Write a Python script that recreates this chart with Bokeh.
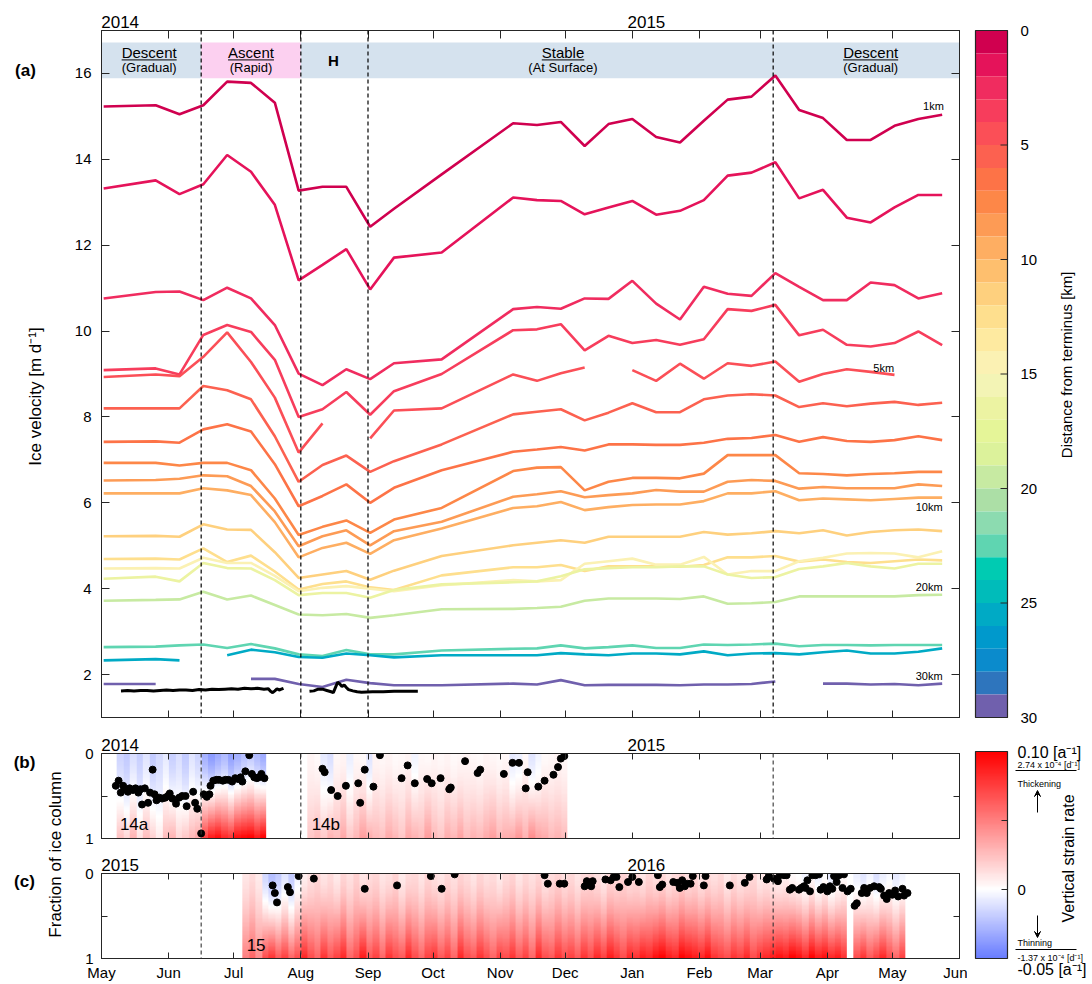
import numpy as np
from bokeh.plotting import figure
from bokeh.models import (Range1d, LinearAxis, FixedTicker, Span, Label,
                          LinearColorMapper, Arrow, VeeHead)
from bokeh.layouts import row, column
from bokeh.embed import file_html
from bokeh.resources import INLINE
from bokeh.core.properties import value

FONT = "Liberation Sans"
INK = "#262626"
nan = float("nan")

# ------------------------------------------------------------------ data
# x is "days since 1 May" of the first year shown in each panel
MONTH_DAY = [0, 31, 61, 92, 123, 153, 184, 214, 245, 276, 304, 335, 365, 396]
MONTH_LABEL = ["May", "Jun", "Jul", "Aug", "Sep", "Oct", "Nov", "Dec",
               "Jan", "Feb", "Mar", "Apr", "May", "Jun"]
YEAR_CENTER = [8.6, 251.5]
YEARS_AB = ["2014", "2015"]
YEARS_C = ["2015", "2016"]
VEL_TICK = [2, 4, 6, 8, 10, 12, 14, 16]
DIST_TICK = [0, 5, 10, 15, 20, 25, 30]

PHASE_START = [0, 46, 92, 123, 310]
PHASE_END = [46, 92, 123, 310, 396]
PHASE_NAME = ["Descent", "Ascent", "H", "Stable", "Descent"]
PHASE_SUB = ["(Gradual)", "(Rapid)", "", "(At Surface)", "(Gradual)"]
PHASE_COLOR = ["#d5e2ee", "#fcd0f0", "#d5e2ee", "#d5e2ee", "#d5e2ee"]
DASH_A = [46, 92, 123, 310]
DASH_BC = [46, 92, 310]

VEL_DAY = [1, 25, 36, 47, 58, 69, 80, 91, 102, 113, 124, 135, 157, 190, 201, 212,
           223, 234, 245, 256, 267, 278, 289, 300, 311, 322, 333, 344, 355, 366, 377, 388]
V_1KM = [15.23, 15.26, 15.05, 15.26, 15.81, 15.78, 15.32, 13.27, 13.36, 13.36, 12.43, 12.85, 13.65, 14.84, 14.80, 14.87,
         14.31, 14.82, 14.94, 14.52, 14.39, 14.90, 15.39, 15.46, 15.95, 15.15, 14.96, 14.45, 14.45, 14.78, 14.94, 15.04]
V_2KM = [13.32, 13.51, 13.19, 13.42, 14.10, 13.71, 12.94, 11.18, 11.54, 11.91, 10.97, 11.71, 11.83, 13.11, 13.05, 13.03,
         12.72, 12.88, 13.03, 12.71, 12.80, 13.05, 13.62, 13.69, 13.93, 13.09, 13.29, 12.64, 12.53, 12.88, 13.17, 13.17]
V_3KM = [10.76, 10.91, 10.92, 10.72, 11.01, 10.76, 10.14, 9.01, 8.74, 9.11, 8.88, 9.25, 9.34, 10.51, 10.56, 10.52,
         10.76, 10.75, 11.17, 10.64, 10.27, 11.03, 10.87, 10.82, 11.35, 11.03, 10.72, 10.72, 11.13, 11.07, 10.76, 10.88]
V_4KM = [9.09, 9.13, 8.99, 9.91, 10.14, 9.98, 9.33, 8.00, 8.18, 8.58, 8.05, 8.60, 9.00, 10.02, 10.04, 10.16,
         9.55, 9.89, 9.72, 9.79, 9.68, 9.81, 10.51, 10.47, 10.61, 9.90, 10.03, 9.68, 9.64, 9.72, 9.99, 9.67]
V_5KM = [8.93, 8.99, 8.95, 9.40, 9.97, 9.28, 8.45, 7.17, 7.85, nan, 7.50, 8.15, 8.20, 8.99, 8.84, 9.02,
         9.15, nan, 9.09, 8.84, 9.24, 8.89, 9.25, 9.19, 9.29, 8.82, 9.00, 9.11, 9.05, 8.98, nan, nan]
V_6KM = [8.20, 8.20, 8.20, 8.72, 8.62, 8.41, 7.55, 6.49, 6.88, 7.10, 6.72, 6.97, 7.36, 8.06, 8.12, 8.18,
         7.92, 8.10, 8.32, 8.11, 8.11, 8.41, 8.50, 8.53, 8.50, 8.23, 8.32, 8.25, 8.31, 8.35, 8.28, 8.33]
V_7KM = [7.42, 7.43, 7.40, 7.71, 7.83, 7.66, 6.90, 5.92, 6.16, 6.43, 6.00, 6.35, 6.76, 7.19, 7.24, 7.30,
         7.22, 7.36, 7.36, 7.35, 7.35, 7.40, 7.49, 7.51, 7.58, 7.42, 7.53, 7.44, 7.42, 7.46, 7.55, 7.46]
V_8KM = [6.93, 6.93, 6.87, 6.93, 6.93, 6.76, 6.10, 5.25, 5.44, 5.59, 5.30, 5.61, 5.88, 6.74, 6.82, 6.83,
         6.29, 6.49, 6.58, 6.58, 6.57, 6.68, 7.11, 7.11, 7.11, 6.69, 6.67, 6.64, 6.67, 6.69, 6.72, 6.72]
V_9KM = [6.52, 6.53, 6.56, 6.64, 6.62, 6.39, 5.80, 4.99, 5.22, 5.36, 5.01, 5.34, 5.56, 6.14, 6.20, 6.27,
         6.13, 6.18, 6.22, 6.30, 6.26, 6.26, 6.49, 6.53, 6.51, 6.33, 6.37, 6.34, 6.34, 6.34, 6.43, 6.39]
V_10KM = [6.22, 6.22, 6.22, 6.34, 6.29, 6.18, 5.55, 4.73, 4.95, 5.07, 4.81, 5.13, 5.40, 5.88, 5.92, 6.02,
          5.83, 5.90, 5.95, 5.96, 5.96, 6.04, 6.22, 6.22, 6.27, 6.06, 6.10, 6.08, 6.06, 6.09, 6.12, 6.12]
V_12KM = [5.22, 5.23, 5.21, 5.50, 5.38, 5.37, 4.85, 4.25, 4.33, 4.41, 4.21, 4.42, 4.76, 5.01, 5.07, 5.13,
          5.07, 5.21, 5.21, 5.21, 5.21, 5.32, 5.26, 5.29, 5.34, 5.29, 5.36, 5.24, 5.32, 5.36, 5.38, 5.34]
V_13KM = [4.69, 4.70, 4.68, 4.94, 4.62, 4.77, 4.40, 3.98, 4.11, 4.17, 4.03, 3.97, 4.31, 4.50, 4.50, 4.55,
          4.41, 4.52, 4.52, 4.52, 4.51, 4.55, 4.73, 4.73, 4.76, 4.63, 4.68, 4.62, 4.60, 4.64, 4.68, 4.66]
V_15KM = [4.47, 4.48, 4.47, 4.72, 4.60, 4.60, 4.30, 3.94, 4.02, 4.06, 4.00, 3.94, 4.08, 4.20, 4.17, 4.20,
          4.58, 4.64, 4.70, 4.56, 4.56, 4.74, 4.33, 4.41, 4.41, 4.64, 4.72, 4.82, 4.83, 4.82, 4.73, 4.87]
V_17KM = [4.23, 4.28, 4.17, 4.60, 4.48, 4.47, 4.20, 3.85, 3.90, 3.90, 3.79, 3.97, 4.10, 4.15, 4.17, 4.29,
          4.45, 4.48, 4.50, 4.50, 4.52, 4.52, 4.33, 4.25, 4.27, 4.46, 4.52, 4.60, 4.52, 4.47, 4.58, 4.58]
V_20KM = [3.72, 3.74, 3.75, 3.93, 3.75, 3.84, 3.62, 3.40, 3.38, 3.41, 3.32, 3.38, 3.52, 3.53, 3.55, 3.58,
          3.72, 3.77, 3.77, 3.77, 3.76, 3.82, 3.65, 3.66, 3.69, 3.82, 3.82, 3.82, 3.82, 3.82, 3.85, 3.86]
V_23KM = [2.64, 2.65, 2.68, 2.70, 2.62, 2.71, 2.61, 2.47, 2.43, 2.57, 2.47, 2.47, 2.56, 2.60, 2.61, 2.68,
          2.61, 2.64, 2.68, 2.62, 2.62, 2.70, 2.69, 2.70, 2.72, 2.66, 2.69, 2.69, 2.68, 2.69, 2.69, 2.69]
V_26KM = [2.33, 2.36, 2.33, nan, 2.45, 2.58, 2.52, 2.41, 2.39, 2.49, 2.45, 2.40, 2.45, 2.45, 2.45, 2.50,
          2.47, 2.45, 2.49, 2.49, 2.47, 2.54, 2.45, 2.49, 2.50, 2.47, 2.52, 2.56, 2.49, 2.49, 2.53, 2.61]
V_30KM = [1.78, 1.78, nan, nan, nan, 1.90, 1.90, 1.78, 1.71, 1.88, 1.80, 1.75, 1.75, 1.79, 1.77, 1.87,
          1.75, 1.76, 1.76, 1.76, 1.75, 1.77, 1.77, 1.78, 1.84, nan, 1.79, 1.79, 1.77, 1.78, 1.75, 1.79]
VEL_SERIES = [V_1KM, V_2KM, V_3KM, V_4KM, V_5KM, V_6KM, V_7KM, V_8KM, V_9KM, V_10KM,
              V_12KM, V_13KM, V_15KM, V_17KM, V_20KM, V_23KM, V_26KM, V_30KM]
SERIES_KM = [1, 2, 3, 4, 5, 6, 7, 8, 9, 10, 12, 13, 15, 17, 20, 23, 26, 30]

# GPS velocity (black)
GPS1_DAY = [9, 12, 15, 18, 21, 24, 27, 30, 33, 36, 39, 42, 45, 48, 51, 54, 57, 60, 63, 66, 69, 72, 75,
            77, 78, 79, 80, 81, 82, 83, 84]
GPS1_VEL = [1.62, 1.63, 1.62, 1.63, 1.63, 1.62, 1.63, 1.64, 1.63, 1.64, 1.64, 1.63, 1.65, 1.64, 1.66, 1.65,
            1.66, 1.67, 1.66, 1.68, 1.67, 1.68, 1.66, 1.67, 1.61, 1.58, 1.62, 1.67, 1.64, 1.66, 1.68]
GPS2_DAY = [96, 98, 100, 102, 104, 106, 107, 108, 109, 110, 111, 112, 113, 114, 116, 118, 120, 125, 130, 135, 140, 146]
GPS2_VEL = [1.61, 1.62, 1.66, 1.66, 1.63, 1.60, 1.58, 1.70, 1.82, 1.78, 1.72, 1.76, 1.70, 1.65, 1.62, 1.60,
            1.59, 1.60, 1.60, 1.61, 1.61, 1.61]

# colour scale of distance from terminus (1 km bands, 0 -> 30 km)
DIST_COLORS = ["#d0004f", "#e5135a", "#f02c5f", "#f73d5c", "#fb4f57", "#fc6150", "#fd7347", "#fd8748",
               "#fd9b55", "#feae62", "#febf6e", "#fed07e", "#fedf8e", "#feeaa0", "#fbf1b3", "#f3f4b5",
               "#ecf3a2", "#e5f598", "#dcf29b", "#c7eaa2", "#acdfa6", "#8cdbb0", "#5fd5b1", "#00cbb2",
               "#00bcba", "#00aac5", "#0099cc", "#0b8bcc", "#2e75bd", "#7060ad"]
DIST_EDGE = list(range(0, 31))

# vertical strain rate [a^-1]: 3-day columns, value at surface and at bed
COL_DAYS = 3
B14A_START = 7
B14A_TOP = [-0.016, -0.020, -0.012, -0.018, -0.010, -0.020, -0.014, -0.008, -0.018, -0.012, -0.020, -0.010,
            -0.016, -0.030, -0.038, -0.032, -0.026, -0.036, -0.030, -0.024, -0.020, -0.026, -0.032]
B14A_BASE = [0.024, 0.016, 0.030, 0.012, 0.026, 0.018, 0.008, 0.026, 0.030, 0.016, 0.022, 0.028,
             0.034, 0.075, 0.090, 0.095, 0.085, 0.080, 0.095, 0.098, 0.100, 0.090, 0.100]
B14B_START = 95
B14B_TOP = [0.004, 0.002, -0.008, -0.012, 0.003, 0.004, -0.006, 0.003, 0.002, -0.010,
            0.004, 0.003, 0.004, 0.002, 0.003, 0.004, -0.004, 0.003, 0.002, 0.004,
            0.003, 0.004, 0.002, 0.003, 0.004, 0.003, 0.002, 0.004, 0.003, 0.002,
            0.003, -0.008, -0.006, 0.003, -0.010, -0.004, 0.002, 0.003, 0.004, 0.003]
B14B_BASE = [0.022, 0.027, 0.021, 0.030, 0.026, 0.034, 0.022, 0.028, 0.038, 0.032,
             0.027, 0.024, 0.033, 0.028, 0.022, 0.034, 0.030, 0.026, 0.039, 0.027,
             0.022, 0.032, 0.028, 0.036, 0.026, 0.030, 0.027, 0.033, 0.038, 0.028,
             0.032, 0.034, 0.041, 0.030, 0.045, 0.036, 0.033, 0.027, 0.030, 0.026]
C15A_START = 65
C15A_TOP = [0.010, 0.014, 0.008, -0.015, -0.025, -0.020, -0.010, -0.020, -0.005, 0.006,
            0.012, 0.016, 0.010, 0.014, 0.008, 0.016, 0.012, 0.018, 0.010, 0.014,
            0.016, 0.010, 0.012, 0.017, 0.008, 0.014, 0.015, 0.010, 0.016, 0.012,
            0.010, 0.015, 0.012, 0.017, 0.014, 0.010, 0.016, 0.012, 0.014, 0.008,
            0.014, 0.017, 0.010, 0.015, 0.012, 0.016, 0.010, 0.014, 0.017, 0.012,
            0.015, 0.010, 0.014, 0.016, 0.012, 0.008, 0.015, 0.014, 0.017, 0.012,
            0.014, 0.010, 0.016, 0.012, 0.015, 0.010, 0.014, 0.017, 0.012, 0.015,
            0.010, 0.014, 0.012, 0.015, 0.008, 0.014, 0.010, 0.012, 0.015, 0.008,
            0.010, 0.006, 0.004, 0.006, 0.002, 0.000, -0.004, 0.002, -0.006, 0.000,
            -0.008, -0.003, 0.002]
C15A_BASE = [0.050, 0.060, 0.045, 0.070, 0.080, 0.065, 0.075, 0.060, 0.070, 0.085,
             0.070, 0.060, 0.080, 0.065, 0.075, 0.085, 0.060, 0.070, 0.090, 0.065,
             0.075, 0.060, 0.080, 0.070, 0.065, 0.085, 0.070, 0.060, 0.075, 0.080,
             0.065, 0.075, 0.060, 0.085, 0.070, 0.065, 0.080, 0.070, 0.060, 0.075,
             0.070, 0.080, 0.065, 0.075, 0.060, 0.085, 0.070, 0.065, 0.080, 0.070,
             0.075, 0.065, 0.080, 0.070, 0.085, 0.075, 0.090, 0.080, 0.070, 0.085,
             0.080, 0.090, 0.085, 0.095, 0.100, 0.090, 0.085, 0.100, 0.095, 0.090,
             0.085, 0.095, 0.080, 0.075, 0.070, 0.080, 0.075, 0.085, 0.070, 0.080,
             0.085, 0.090, 0.095, 0.090, 0.100, 0.095, 0.085, 0.100, 0.090, 0.095,
             0.085, 0.090, 0.080]
C15B_START = 347
C15B_TOP = [-0.006, -0.010, -0.004, -0.012, -0.006, -0.002, -0.008, -0.004]
C15B_BASE = [0.070, 0.080, 0.065, 0.075, 0.085, 0.070, 0.060, 0.075]

# neutral-strain depth (fraction of ice column from the surface)
B_DOT_DAY = [6.6, 7.9, 8.9, 10, 11, 12.2, 13, 14.5, 15.7, 17, 18, 18.7, 20, 21.5, 22.4, 23.6, 24.5, 25.4, 26.7, 28,
             29.4, 30.6, 31.5, 32.7, 34.4, 35.8, 37.2, 38.8, 39.3, 42.3, 43.2, 44.2, 46, 47.2, 48.6, 49.8, 50.3,
             51.6, 53, 54.2, 56, 57.2, 58.6, 60.3, 61.7, 63, 64.2, 65, 66.4, 68.2, 69.4, 70.5, 71.7, 72.6, 73.8, 75.2,
             102, 103, 106, 109, 112.8, 118.5, 119.4, 121.5, 125.5, 128.5, 138.5, 141.3, 144.6, 150.3, 152.4,
             156.5, 160.5, 161.2, 167.8, 173.6, 174.8, 185.7, 189.7, 192.7, 195.8, 196.7, 201.6, 204.5, 208.6,
             210.7, 212, 213.6]
B_DOT_FRAC = [0.38, 0.32, 0.46, 0.38, 0.42, 0.45, 0.41, 0.43, 0.41, 0.46, 0.42, 0.60, 0.41, 0.58, 0.46, 0.19,
              0.48, 0.55, 0.52, 0.53, 0.52, 0.50, 0.47, 0.53, 0.59, 0.52, 0.50, 0.50, 0.62, 0.45, 0.58, 0.65,
              0.94, 0.48, 0.51, 0.48, 0.38, 0.32, 0.31, 0.31, 0.32, 0.31, 0.31, 0.33, 0.29, 0.30, 0.28, 0.33,
              0.21, 0.02, 0.24, 0.28, 0.29, 0.28, 0.24, 0.29,
              0.18, 0.22, 0.43, 0.50, 0.38, 0.35, 0.58, 0.19, 0.39, 0.02, 0.29, 0.14, 0.35, 0.30, 0.35,
              0.29, 0.42, 0.40, 0.09, 0.23, 0.19, 0.24, 0.11, 0.11, 0.41, 0.22, 0.39, 0.32, 0.25,
              0.16, 0.06, 0.03]
C_DOT_DAY = [79, 80, 81, 86, 87, 91, 98, 121.5, 136.4, 152, 157, 163, 204.5, 206, 211.5, 213.6, 223, 224, 226,
             226.7, 232.6, 235, 236.4, 237.7, 239, 243, 245, 248, 256.8, 257.7, 258.8, 263.9, 265.7, 266.9,
             268, 269.2, 270.3, 271.9, 272.9, 278, 278.8, 290, 296.9, 299.1, 307, 308, 310.3, 312.2, 313, 315,
             316.2, 317.7, 318.8, 321.9, 323, 324.2, 325, 325.8, 327, 328.1, 329.6, 331.2, 331.9, 333.2, 335,
             336.2, 337.3, 338.1, 339.3, 340.4, 342, 342.7, 344.3, 345.8, 347.6, 348.6, 350.9, 352, 353.2,
             354.7, 356.6, 358.9, 359.7, 361.2, 362.4, 363.5, 365, 366.3, 367.7, 369.7, 370.4, 372]
C_DOT_FRAC = [0.14, 0.23, 0.34, 0.16, 0.22, 0.03, 0.06, 0.18, 0.14, 0.03, 0.18, 0.01, 0.02, 0.12, 0.12, 0.12,
              0.15, 0.09, 0.15, 0.09, 0.07, 0.08, 0.04, 0.04, 0.16, 0.10, 0.04, 0.10, 0.02, 0.16, 0.13, 0.10,
              0.11, 0.17, 0.08, 0.15, 0.12, 0.12, 0.03, 0.14, 0.03, 0.14, 0.11, 0.04, 0.07, 0.03, 0.06, 0.09,
              0.02, 0.02, 0.02, 0.19, 0.17, 0.19, 0.17, 0.15, 0.17, 0.08, 0.21, 0.02, 0.02, 0.01, 0.19, 0.16,
              0.21, 0.15, 0.18, 0.03, 0.10, 0.02, 0.17, 0.01, 0.21, 0.18, 0.38, 0.35, 0.23, 0.17, 0.23, 0.17,
              0.15, 0.16, 0.18, 0.26, 0.30, 0.23, 0.25, 0.20, 0.27, 0.18, 0.26, 0.23]

STRAIN_LOW, STRAIN_HIGH = -0.05, 0.10


# ------------------------------------------------------------------ helpers
def strain_palette(n=256):
    out = []
    for v in np.linspace(STRAIN_LOW, STRAIN_HIGH, n):
        if v < 0:
            t = -v / 0.05
            c = (255 + (105 - 255) * t, 255 + (125 - 255) * t, 255)
        else:
            t = v / 0.10
            c = (255, 255 * (1 - t), 255 * (1 - t))
        out.append("#%02x%02x%02x" % tuple(int(round(x)) for x in c))
    return out


STRAIN_MAPPER = LinearColorMapper(palette=strain_palette(), low=STRAIN_LOW, high=STRAIN_HIGH)
NZ = 64
ZCOL = np.linspace(1.0, 0.0, NZ)[:, None]   # image row 0 sits at the bed


def strain_field(top, base):
    t = np.asarray(top, float)[None, :]
    b = np.asarray(base, float)[None, :]
    return t + (b - t) * ZCOL ** 1.5


def style_axis(ax, ticks, labels=None, size="15px", standoff=8, tick=7):
    ax.ticker = FixedTicker(ticks=ticks)
    ax.major_tick_in = tick
    ax.major_tick_out = 0
    ax.minor_tick_in = 0
    ax.minor_tick_out = 0
    ax.minor_tick_line_color = None
    ax.major_tick_line_color = INK
    ax.major_tick_line_width = 1
    ax.axis_line_color = INK
    ax.axis_line_width = 1
    ax.major_label_text_font = FONT
    ax.major_label_text_color = "black"
    ax.axis_label_text_font = FONT
    ax.axis_label_text_font_style = "normal"
    ax.axis_label_text_color = "black"
    if labels is None:
        ax.major_label_overrides = {t: "" for t in ticks}
        ax.major_label_text_font_size = "0px"
        ax.major_label_standoff = 0
    else:
        ax.major_label_overrides = labels
        ax.major_label_text_font_size = size
        ax.major_label_standoff = standoff


def add_top_axes(p, years, tick):
    ticks_ax = LinearAxis()
    p.add_layout(ticks_ax, "above")
    style_axis(ticks_ax, MONTH_DAY, tick=tick)
    year_ax = LinearAxis()
    p.add_layout(year_ax, "above")
    style_axis(year_ax, YEAR_CENTER, {c: s for c, s in zip(YEAR_CENTER, years)},
               size="17px", standoff=3, tick=0)
    year_ax.axis_line_color = None
    year_ax.major_tick_line_color = None


def make_fig(fw, fh, xr, yr, left, right, top, bottom, **kw):
    p = figure(frame_width=fw, frame_height=fh, x_range=xr, y_range=yr,
               toolbar_location=None, output_backend="svg",
               min_border_left=left, min_border_right=right,
               min_border_top=top, min_border_bottom=bottom, **kw)
    p.grid.visible = False
    p.outline_line_color = INK
    p.outline_line_width = 1
    return p


def blank_fig(w, h, xr, yr):
    p = figure(frame_width=w, frame_height=h, x_range=xr, y_range=yr, toolbar_location=None,
               output_backend="svg", min_border=0, x_axis_location=None,
               y_axis_location=None, outline_line_color=None)
    p.grid.visible = False
    return p


def add_text(p, x, y, text, size="15px", style="normal", align="left", angle=0):
    p.add_layout(Label(x=x, y=y, text=text, text_font=FONT, text_font_size=size,
                       text_font_style=style, text_align=align, text_baseline="middle",
                       angle=angle, angle_units="deg", text_color="black"))


# ------------------------------------------------------------------ panel (a)
pa = make_fig(858, 687, Range1d(0, 396), Range1d(1, 17), 31, 8, 30, 14)
style_axis(pa.xaxis[0], MONTH_DAY)
add_top_axes(pa, YEARS_AB, 8)
style_axis(pa.yaxis[0], VEL_TICK, {t: str(t) for t in VEL_TICK}, standoff=10, tick=8)
ax_r = LinearAxis()
pa.add_layout(ax_r, "right")
style_axis(ax_r, VEL_TICK, tick=8)

BAND_LO, BAND_HI = 15.89, 16.72
pa.quad(left=PHASE_START, right=PHASE_END, bottom=BAND_LO, top=BAND_HI,
        fill_color=PHASE_COLOR, line_color=None)
NAME_X = [22, 69, 107, 213, 355]
NAME_W = [25.4, 21.2, 0, 19.6, 25.4]   # underline widths in days
for nx, nm, sub, w in zip(NAME_X, PHASE_NAME, PHASE_SUB, NAME_W):
    if nm == "H":
        pa.text(x=[nx], y=[16.31], text=[nm], text_font=value(FONT), text_font_size="15px",
                text_font_style="bold", text_align="center", text_baseline="middle", text_color="black")
        continue
    pa.text(x=[nx], y=[16.49], text=[nm], text_font=value(FONT), text_font_size="15px",
            text_align="center", text_baseline="middle", text_color="black")
    pa.text(x=[nx], y=[16.13], text=[sub], text_font=value(FONT), text_font_size="13px",
            text_align="center", text_baseline="middle", text_color="black")
    pa.segment(x0=[nx - w / 2], y0=[16.315], x1=[nx + w / 2], y1=[16.315], line_color="black", line_width=1)

for vals, km in zip(VEL_SERIES, SERIES_KM):
    pa.line(VEL_DAY, vals, line_color=DIST_COLORS[km - 1], line_width=2.6)
pa.line(GPS1_DAY, GPS1_VEL, line_color="black", line_width=3)
pa.line(GPS2_DAY, GPS2_VEL, line_color="black", line_width=3)

for d in DASH_A:
    pa.add_layout(Span(location=d, dimension="height", line_color="black",
                       line_dash="4 3", line_width=1.2))

KM_LABEL = ["1km", "5km", "10km", "20km", "30km"]
KM_LABEL_X = [384, 361, 382, 382, 382]
KM_LABEL_Y = [15.25, 9.14, 5.90, 4.04, 1.97]
pa.text(x=KM_LABEL_X, y=KM_LABEL_Y, text=KM_LABEL, text_font=value(FONT), text_font_size="11px",
        text_align="center", text_baseline="middle", text_color="black")

lab_a = blank_fig(70, 731, Range1d(0, 70), Range1d(731, 0))
add_text(lab_a, 25, 40, "(a)", size="17px", style="bold", align="center")
add_text(lab_a, 35, 366, "Ice velocity [m d⁻¹]", size="17px", align="center", angle=90)


# ------------------------------------------------------------------ panels (b) and (c)
def depth_panel(top_pad, bottom_pad, years, segments, dot_day, dot_frac, tags, month_labels):
    p = make_fig(858, 85, Range1d(0, 396), Range1d(0, 1), 31, 8, top_pad, bottom_pad)
    style_axis(p.xaxis[0], MONTH_DAY,
               {d: m for d, m in zip(MONTH_DAY, MONTH_LABEL)} if month_labels else None,
               standoff=5, tick=6)
    add_top_axes(p, years, 6)
    style_axis(p.yaxis[0], [0, 0.5, 1], {0: "1", 0.5: "", 1: "0"}, standoff=8, tick=6)
    ar = LinearAxis()
    p.add_layout(ar, "right")
    style_axis(ar, [0, 0.5, 1], tick=6)
    for start, top, base in segments:
        p.image(image=[strain_field(top, base)], x=start, y=0, dw=COL_DAYS * len(top), dh=1,
                color_mapper=STRAIN_MAPPER)
    for d in DASH_BC:
        p.add_layout(Span(location=d, dimension="height", line_color="#333333",
                          line_dash="4 3", line_width=1.1))
    p.scatter(dot_day, [1 - f for f in dot_frac], size=7, color="black")
    for tx, ty, tt in tags:
        p.text(x=[tx], y=[ty], text=[tt], text_font=value(FONT), text_font_size="17px",
               text_align="left", text_baseline="middle", text_color="black")
    return p


pb = depth_panel(22, 13, YEARS_AB,
                 [(B14A_START, B14A_TOP, B14A_BASE), (B14B_START, B14B_TOP, B14B_BASE)],
                 B_DOT_DAY, B_DOT_FRAC, [(8.5, 0.16, "14a"), (97, 0.16, "14b")], False)
pc = depth_panel(22, 24, YEARS_C,
                 [(C15A_START, C15A_TOP, C15A_BASE), (C15B_START, C15B_TOP, C15B_BASE)],
                 C_DOT_DAY, C_DOT_FRAC, [(67, 0.16, "15")], True)

lab_bc = blank_fig(70, 251, Range1d(0, 70), Range1d(982, 731))
add_text(lab_bc, 24, 762, "(b)", size="17px", style="bold", align="center")
add_text(lab_bc, 24, 881, "(c)", size="17px", style="bold", align="center")
add_text(lab_bc, 55, 854, "Fraction of ice column", size="17px", align="center", angle=90)

# ------------------------------------------------------------------ colour bars
# distance colour bar: x in page pixels, y in km (0 km at the frame top of panel a, 30 km at its bottom)
KM_PER_PX = 30.0 / 687.0
cba = blank_fig(123, 731, Range1d(967, 1090), Range1d(30 + 14 * KM_PER_PX, -30 * KM_PER_PX))
BAR_L, BAR_R = 975, 1007
cba.quad(left=BAR_L, right=BAR_R, bottom=DIST_EDGE[1:], top=DIST_EDGE[:-1],
         fill_color=DIST_COLORS, line_color=None)
cba.quad(left=[BAR_L], right=[BAR_R], bottom=[DIST_EDGE[-1]], top=[DIST_EDGE[0]], fill_color=None,
         line_color=INK, line_width=1.2)
cba.segment(x0=[BAR_R - 7] * len(DIST_TICK), y0=DIST_TICK, x1=[BAR_R] * len(DIST_TICK), y1=DIST_TICK,
            line_color=INK, line_width=1)
for t in DIST_TICK:
    add_text(cba, 1020, t, str(t), size="15px")
add_text(cba, 1066, 14.6, "Distance from terminus [km]", size="15px", align="center", angle=90)

# strain colour bar: a blank canvas in page pixels (x right, y down)
cbb = blank_fig(123, 251, Range1d(967, 1090), Range1d(982, 731))
BAR_T, BAR_B = 751, 958


def sy(v):  # strain value -> pixel row on this canvas
    return BAR_B - (v - STRAIN_LOW) / (STRAIN_HIGH - STRAIN_LOW) * (BAR_B - BAR_T)


cbb.image(image=[np.linspace(STRAIN_HIGH, STRAIN_LOW, 240)[:, None]], x=BAR_L, y=BAR_T,
          dw=BAR_R - BAR_L, dh=BAR_B - BAR_T, color_mapper=STRAIN_MAPPER)
cbb.quad(left=[BAR_L], right=[BAR_R], bottom=[BAR_B], top=[BAR_T], fill_color=None,
         line_color=INK, line_width=1.2)
STRAIN_TICK = [0.0, 0.05]
cbb.segment(x0=[BAR_R - 6] * 2, y0=[sy(t) for t in STRAIN_TICK], x1=[BAR_R] * 2,
            y1=[sy(t) for t in STRAIN_TICK], line_color=INK, line_width=1)
add_text(cbb, 1017, sy(0.0), "0", size="15px")
add_text(cbb, 1068, 858, "Vertical strain rate", size="16px", align="center", angle=90)
add_text(cbb, 1017, 752, "0.10 [a⁻¹]", size="16px")
add_text(cbb, 1017, 764, "2.74 x 10⁻⁴ [d⁻¹]", size="9px")
cbb.segment(x0=[1015, 1015], y0=[770, 949], x1=[1076, 1076], y1=[770, 949],
            line_color="black", line_width=1)
add_text(cbb, 1017, 783, "Thickening", size="9px")
cbb.add_layout(Arrow(end=VeeHead(size=6, line_color="black", line_width=1, fill_color="black"),
                     x_start=1037, y_start=812, x_end=1037, y_end=790,
                     line_color="black", line_width=1))
cbb.add_layout(Arrow(end=VeeHead(size=6, line_color="black", line_width=1, fill_color="black"),
                     x_start=1037, y_start=915, x_end=1037, y_end=937,
                     line_color="black", line_width=1))
add_text(cbb, 1017, 942, "Thinning", size="9px")
add_text(cbb, 1017, 957, "-1.37 x 10⁻⁴ [d⁻¹]", size="9px")
add_text(cbb, 1017, 969, "-0.05 [a⁻¹]", size="16px")

layout = row(column(row(lab_a, pa), row(lab_bc, column(pb, pc))), column(cba, cbb))
open("out.html", "w").write(file_html(layout, INLINE))
